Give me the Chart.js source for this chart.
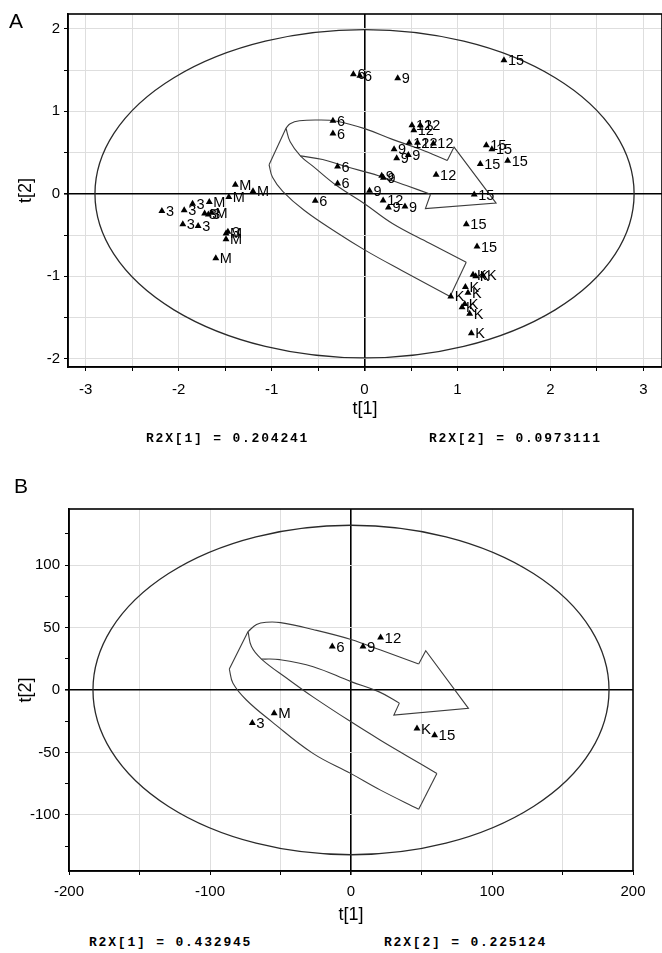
<!DOCTYPE html>
<html>
<head>
<meta charset="utf-8">
<script src="https://cdn.jsdelivr.net/npm/chart.js@4.4.0/dist/chart.umd.min.js"></script>
<style>
  html, body { margin: 0; padding: 0; background: #fff; overflow: hidden; }
  body { width: 662px; height: 953px; position: relative; font-family: 'Liberation Sans', Arial, sans-serif; }
  canvas { position: absolute; left: 0; }
  .tag { position: absolute; font-size: 21px; line-height: 21px; color: #000; z-index: 2; }
  .r2x { position: absolute; font-family: 'Liberation Mono', 'Courier New', monospace; font-size: 13px; line-height: 13px;
         font-weight: bold; letter-spacing: 1.8px; white-space: pre; color: #000; z-index: 2; }
</style>
</head>
<body>
<div class="tag" style="left:9px;top:10px">A</div>
<canvas id="chartA" width="666" height="440" style="top:0"></canvas>
<div class="r2x" style="left:146px;top:432px">R2X[1] = 0.204241</div>
<div class="r2x" style="left:429px;top:432px">R2X[2] = 0.0973111</div>

<div class="tag" style="left:14px;top:475px">B</div>
<canvas id="chartB" width="662" height="480" style="top:450px"></canvas>
<div class="r2x" style="left:89px;top:936px">R2X[1] = 0.432945</div>
<div class="r2x" style="left:384px;top:936px">R2X[2] = 0.225124</div>

<script>
// ---- panel A: score values [t1, t2] per sampling group ----
const scoresA_3 = [[-2.18, -0.21], [-1.94, -0.2], [-1.85, -0.12], [-1.72, -0.24], [-1.68, -0.25], [-1.955, -0.37], [-1.79, -0.39], [-1.47, -0.46]];
const scoresA_M = [[-1.39, 0.11], [-1.2, 0.03], [-1.46, -0.04], [-1.67, -0.1], [-1.645, -0.23], [-1.49, -0.48], [-1.49, -0.55], [-1.6, -0.78]];
const scoresA_6 = [[-0.12, 1.45], [-0.05, 1.43], [-0.34, 0.885], [-0.34, 0.73], [-0.29, 0.33], [-0.29, 0.125], [-0.53, -0.085]];
const scoresA_9 = [[0.357, 1.4], [0.318, 0.54], [0.346, 0.43], [0.471, 0.47], [0.185, 0.22], [0.203, 0.195], [0.054, 0.036], [0.435, -0.154], [0.257, -0.166]];
const scoresA_12 = [[0.51, 0.83], [0.53, 0.77], [0.6, 0.83], [0.48, 0.62], [0.57, 0.62], [0.74, 0.61], [0.77, 0.23], [0.2, -0.08]];
const scoresA_15 = [[1.5, 1.62], [1.31, 0.59], [1.37, 0.54], [1.245, 0.36], [1.54, 0.4], [1.18, -0.01], [1.095, -0.37], [1.21, -0.64]];
const scoresA_K = [[1.167, -0.98], [1.196, -1.0], [1.274, -0.99], [1.085, -1.13], [1.113, -1.2], [0.928, -1.245], [1.078, -1.335], [1.049, -1.375], [1.131, -1.455], [1.149, -1.69]];
const ellipseA = [2.9, 1.99]; // T2 limit half axes

// ---- panel B ----
const scoresB_3 = [[-70, -26.5]];
const scoresB_M = [[-54.5, -18.6]];
const scoresB_6 = [[-13.3, 34.8]];
const scoresB_9 = [[8.5, 34.8]];
const scoresB_12 = [[21, 42]];
const scoresB_15 = [[59.3, -36.3]];
const scoresB_K = [[46.8, -30.8]];
const ellipseB = [183, 132];

// ---- hand drawn arrow (ribbon) outlines, in score units ----
const arrowA_top = [[-0.845, 0.795], [-0.8, 0.85], [-0.7, 0.885], [-0.5, 0.895], [-0.3, 0.88], [0.0, 0.79], [0.3, 0.66], [0.6, 0.54], [0.89, 0.405]];
const arrowA_head = [[0.89, 0.405], [0.963, 0.566], [1.415, -0.113], [0.655, -0.18], [0.71, -0.005]];
const arrowA_shaft = [[0.71, -0.005], [0.45, 0.1], [0.15, 0.22], [-0.2, 0.33], [-0.45, 0.415], [-0.69, 0.46]];
const arrowA_fold = [[-0.845, 0.795], [-1.027, 0.352]];
const arrowA_outer = [[-1.027, 0.352], [-0.99, 0.2], [-0.88, 0.03], [-0.65, -0.2], [-0.3, -0.47], [0.0, -0.68], [0.4, -0.93], [0.92, -1.245]];
const arrowA_tail = [[0.92, -1.245], [1.094, -0.83]];
const arrowA_inner = [[1.094, -0.83], [0.7, -0.6], [0.3, -0.36], [0.0, -0.12], [-0.3, 0.1], [-0.55, 0.33], [-0.69, 0.46], [-0.8, 0.63], [-0.845, 0.795]];

const arrowB_top = [[-73, 46.8], [-67, 52.5], [-60, 54.3], [-50, 54], [-27, 48.5], [0, 40.5], [21, 32], [48, 20.9]];
const arrowB_head = [[48, 20.9], [53, 31.5], [83.3, -14.7], [30.4, -20.1], [34.3, -10.5]];
const arrowB_shaft = [[34.3, -10.5], [20, -1.5], [0, 6.7], [-26.8, 18.7], [-50.5, 24.3], [-63.5, 24.8]];
const arrowB_fold = [[-73, 46.8], [-86.3, 16.8]];
const arrowB_outer = [[-86.3, 16.8], [-83.7, 5.4], [-74.2, -8], [-56, -25.5], [-27, -50.8], [0, -67], [20.6, -80], [48, -95.5]];
const arrowB_tail = [[48, -95.5], [60.9, -66.9]];
const arrowB_inner = [[60.9, -66.9], [40, -53], [20.6, -40], [0, -25.5], [-27, -5.5], [-45, 9], [-63.5, 24.8], [-70.6, 34.8], [-73, 46.8]];

const FONT = "'Liberation Sans', Arial, sans-serif";

function pointSet(tag, pts) {
  return {
    tag: tag,
    data: pts.map(p => ({ x: p[0], y: p[1] })),
    pointStyle: 'triangle', pointRadius: 4, pointBackgroundColor: '#000', pointBorderWidth: 0,
    showLine: false, order: 0
  };
}

function edge(pts, tension) {
  return {
    data: pts.map(p => ({ x: p[0], y: p[1] })),
    showLine: true, tension: tension, pointRadius: 0, borderColor: '#3c3c3c', borderWidth: 1.1,
    fill: false, order: 1
  };
}

// ellipse + frame drawn with the chart scales
const frameAndEllipse = {
  id: 'frameAndEllipse',
  beforeDatasetsDraw(chart, args, opts) {
    const { ctx, chartArea: a, scales: { x, y } } = chart;
    const cx = x.getPixelForValue(0), cy = y.getPixelForValue(0);
    ctx.save();
    ctx.beginPath();
    ctx.rect(a.left, a.top, a.width, a.height);
    ctx.clip();
    ctx.beginPath();
    ctx.ellipse(cx, cy, x.getPixelForValue(opts.rx) - cx, cy - y.getPixelForValue(opts.ry), 0, 0, Math.PI * 2);
    ctx.strokeStyle = '#2a2a2a';
    ctx.lineWidth = 1.3;
    ctx.stroke();
    ctx.restore();
  },
  afterDatasetsDraw(chart) {
    const { ctx, chartArea: a } = chart;
    ctx.save();
    ctx.strokeStyle = '#000';
    ctx.lineWidth = 1.6;
    ctx.strokeRect(a.left, a.top, a.width, a.height);
    ctx.restore();
  }
};

// sample name next to each triangle
const pointLabels = {
  id: 'pointLabels',
  afterDatasetsDraw(chart, args, opts) {
    const ctx = chart.ctx;
    ctx.save();
    ctx.font = opts.size + 'px ' + FONT;
    ctx.fillStyle = '#000';
    ctx.textBaseline = 'middle';
    ctx.textAlign = 'left';
    chart.data.datasets.forEach((ds, i) => {
      if (!ds.tag) return;
      chart.getDatasetMeta(i).data.forEach(pt => ctx.fillText(ds.tag, pt.x + 4, pt.y + 1));
    });
    ctx.restore();
  }
};

function axis(o) {
  return {
    type: 'linear',
    min: o.min, max: o.max,
    afterFit: o.fit,
    border: { display: true, color: '#000', width: 1.6 },
    grid: {
      color: c => c.tick.value === 0 ? '#000' : (o.grid(c.tick.value) ? '#dedede' : 'rgba(0,0,0,0)'),
      lineWidth: c => c.tick.value === 0 ? 1.6 : 1,
      tickColor: '#000', tickLength: 4
    },
    ticks: {
      stepSize: o.step, includeBounds: false, autoSkip: false, maxRotation: 0,
      color: '#000', font: { family: FONT, size: 15 }, padding: o.pad,
      callback: v => o.label(v) ? String(v) : ''
    },
    title: { display: true, text: o.title, color: '#000', font: { family: FONT, size: 18 }, padding: o.titlePad }
  };
}

const isWhole = v => Math.abs(v - Math.round(v)) < 1e-9;

new Chart(document.getElementById('chartA'), {
  type: 'scatter',
  data: {
    datasets: [
      pointSet('3', scoresA_3), pointSet('M', scoresA_M), pointSet('6', scoresA_6), pointSet('9', scoresA_9),
      pointSet('12', scoresA_12), pointSet('15', scoresA_15), pointSet('K', scoresA_K),
      edge(arrowA_top, 0.4), edge(arrowA_head, 0), edge(arrowA_shaft, 0.4), edge(arrowA_fold, 0),
      edge(arrowA_outer, 0.4), edge(arrowA_tail, 0), edge(arrowA_inner, 0.4)
    ]
  },
  options: {
    responsive: false, animation: false, events: [],
    layout: { padding: { left: 0, top: 14, right: 1, bottom: 0 } },
    plugins: {
      legend: { display: false }, tooltip: { enabled: false },
      frameAndEllipse: { rx: ellipseA[0], ry: ellipseA[1] },
      pointLabels: { size: 14.5 }
    },
    scales: {
      x: axis({ min: -3.19, max: 3.2, step: 0.5, fit: s => { s.height = 73; }, grid: () => true, label: isWhole,
                pad: 10, title: 't[1]', titlePad: { top: 0, bottom: 20 } }),
      y: axis({ min: -2.1, max: 2.18, step: 0.5, fit: s => { s.width = 68; }, grid: () => true, label: isWhole,
                pad: 4, title: 't[2]', titlePad: { top: 15, bottom: 0 } })
    }
  },
  plugins: [frameAndEllipse, pointLabels]
});

new Chart(document.getElementById('chartB'), {
  type: 'scatter',
  data: {
    datasets: [
      pointSet('3', scoresB_3), pointSet('M', scoresB_M), pointSet('6', scoresB_6), pointSet('9', scoresB_9),
      pointSet('12', scoresB_12), pointSet('15', scoresB_15), pointSet('K', scoresB_K),
      edge(arrowB_top, 0.4), edge(arrowB_head, 0), edge(arrowB_shaft, 0.4), edge(arrowB_fold, 0),
      edge(arrowB_outer, 0.4), edge(arrowB_tail, 0), edge(arrowB_inner, 0.4)
    ]
  },
  options: {
    responsive: false, animation: false, events: [],
    layout: { padding: { left: 0, top: 59, right: 29, bottom: 0 } },
    plugins: {
      legend: { display: false }, tooltip: { enabled: false },
      frameAndEllipse: { rx: ellipseB[0], ry: ellipseB[1] },
      pointLabels: { size: 15 }
    },
    scales: {
      x: axis({ min: -200, max: 200, step: 50, fit: s => { s.height = 59; }, grid: v => Math.abs(v) < 200,
                label: v => v % 100 === 0, pad: 8, title: 't[1]', titlePad: { top: 0, bottom: 4 } }),
      y: axis({ min: -145, max: 145, step: 25, fit: s => { s.width = 69; }, grid: v => v % 50 === 0,
                label: v => v % 50 === 0, pad: 5, title: 't[2]', titlePad: { top: 15, bottom: 0 } })
    }
  },
  plugins: [frameAndEllipse, pointLabels]
});
</script>
</body>
</html>
